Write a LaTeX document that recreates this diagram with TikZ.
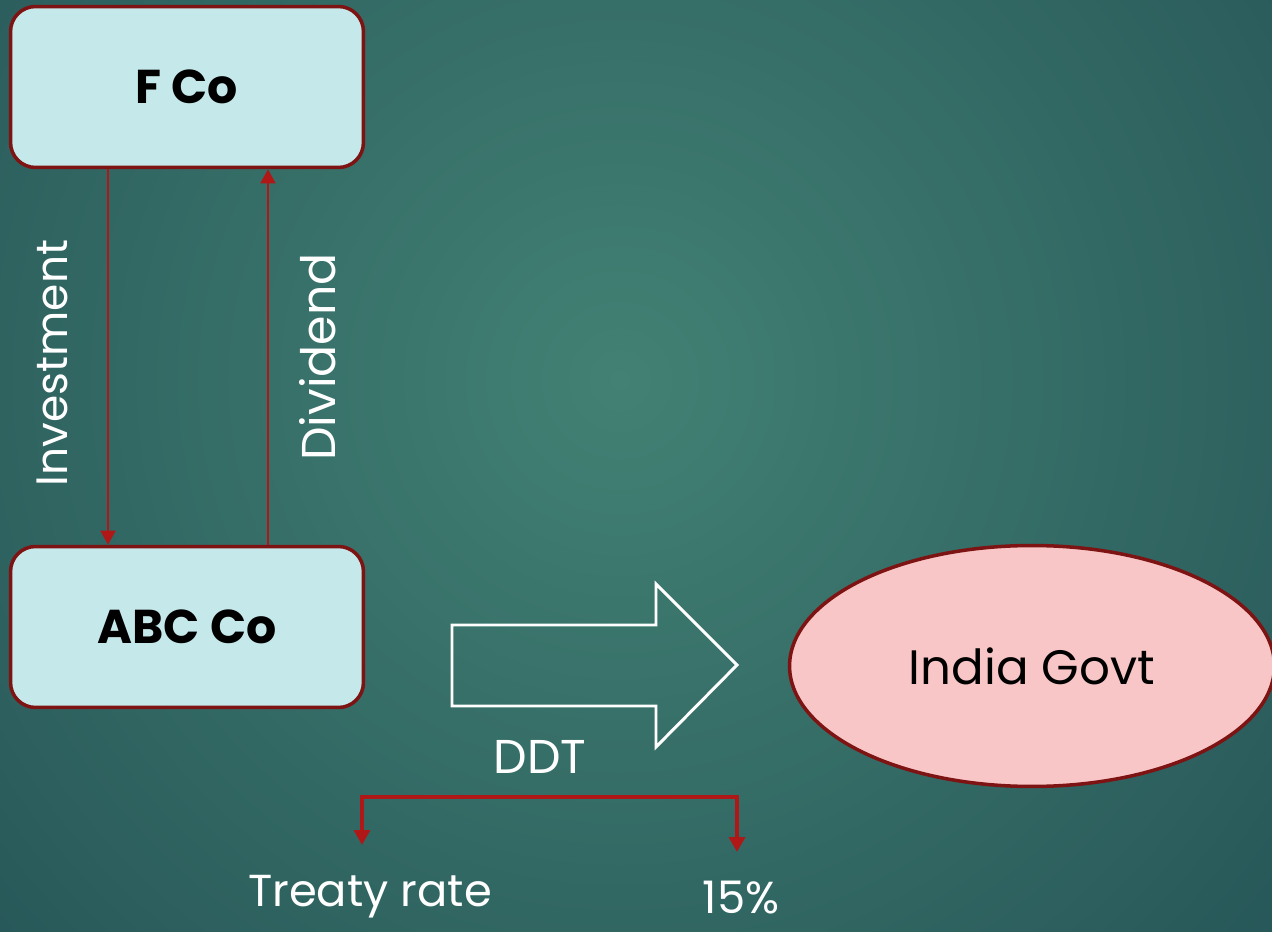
\documentclass[tikz,border=0pt]{standalone}
\usepackage{fontspec}
\setmainfont{Poppins}
\usetikzlibrary{arrows.meta,shapes.geometric}
\definecolor{slidedark}{HTML}{173E48}
\definecolor{slidelight}{HTML}{428174}
\definecolor{boxfill}{HTML}{C5E9EA}
\definecolor{boxline}{HTML}{7E1313}
\definecolor{flowred}{HTML}{B01717}
\definecolor{govtfill}{HTML}{F8C6C6}
\tikzset{cobox/.style={draw=boxline,line width=2pt,fill=boxfill,rounded corners=0.5cm,
           minimum width=7.06cm,minimum height=3.22cm,font=\bfseries\fontsize{27}{32}\selectfont},
         govtoval/.style={ellipse,draw=boxline,line width=2pt,fill=govtfill,
           minimum width=9.7cm,minimum height=4.82cm,font=\fontsize{27.5}{32}\selectfont},
         flow/.style={draw=flowred,line width=1.1pt,-{Triangle[width=8.5pt,length=8pt]}},
         split/.style={draw=flowred,line width=2.6pt,
           {Triangle[width=9pt,length=8.5pt]}-{Triangle[width=9pt,length=8.5pt]}},
         whitelabel/.style={text=white,inner sep=0pt,font=\fontsize{27}{32}\selectfont}
}
\begin{document}
\begin{tikzpicture}[x=0.02cm,y=-0.02cm]
  \useasboundingbox (0,0) rectangle (1272,932);
  \begin{scope}
    \clip (0,0) rectangle (1272,932);
    \shade[inner color=slidelight,outer color=slidedark](-760,-1000)rectangle(2000,1760);
  \end{scope}
  \node[cobox] (fco) at (187,87) {F Co};
  \node[cobox] (abc) at (187,627) {ABC Co};
  \node[govtoval] (govt) at (1032,666) {India Govt};
  \draw[flow]([xshift=-1.58cm]fco.south)--([xshift=-1.58cm]abc.north);
  \draw[flow]([xshift=1.62cm]abc.north)--([xshift=1.62cm]fco.south);
  \node[whitelabel,rotate=90,font=\fontsize{25}{30}\selectfont] (inv) at (52,363) {Investment};
  \node[whitelabel,rotate=90] (div) at (318,357) {Dividend};
  % DDT block arrow
  \draw[white,line width=1.7pt](452,625)--(656,625)--(656,584)--(737,665)--(656,747)--(656,706)--(452,706)--cycle;
  \node[whitelabel] (ddt) at (540,757) {DDT};
  \coordinate (splitL) at (362,845);
  \coordinate (splitC) at (737,797);
  \coordinate (splitR) at (737,852);
  \draw[split](splitL)|-(splitC)--(splitR);
  \node[whitelabel,font=\fontsize{25.5}{30}\selectfont] (treaty) at (370,897) {Treaty rate};
  \node[whitelabel,font=\fontsize{25.5}{30}\selectfont] (rate) at (741,898) {15\%};
\end{tikzpicture}
\end{document}
